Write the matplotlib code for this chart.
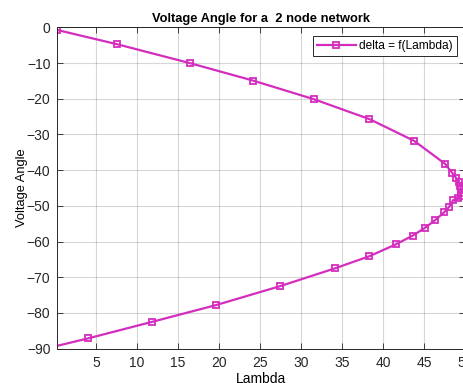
import matplotlib
matplotlib.use("Agg")
import matplotlib.pyplot as plt

lam = [0.28, 7.6, 16.5, 24.1, 31.5, 38.3, 43.75, 47.5, 48.4,
       48.9, 49.2, 49.35, 49.45, 49.5, 49.4, 49.1,
       48.5, 48.0, 47.4, 46.3, 45.1, 43.6, 41.5, 38.3, 34.1, 27.4,
       19.6, 11.8, 4.06, -1.0]
delta = [-0.75, -4.75, -10.06, -14.9, -20.1, -25.7, -31.8, -38.2, -40.8,
         -42.3, -43.3, -44.3, -45.3, -46.3, -47.2, -47.9,
         -48.4, -50.3, -51.8, -54.0, -56.1, -58.3, -60.8, -64.1, -67.5, -72.5,
         -77.8, -82.5, -87.1, -89.9]
xticks = [5, 10, 15, 20, 25, 30, 35, 40, 45, 50]
yticks = [0, -10, -20, -30, -40, -50, -60, -70, -80, -90]

plt.rcParams['font.family'] = ['Liberation Sans', 'DejaVu Sans']
fig = plt.figure(figsize=(4.64, 3.83), dpi=100)
ax = fig.add_axes([0.1235, 0.0896, 0.8797, 0.839])
col = '#D42DBE'
ax.plot(lam, delta, color=col, lw=1.6, marker='s', ms=4.6, mfc='none',
        mec=col, mew=1.3, label='delta = f(Lambda)')
ax.set_xlim(0.28, 50.0)
ax.set_ylim(-90, 0)
ax.set_xticks(xticks)
ax.set_yticks(yticks)
ax.tick_params(direction='in', top=True, right=True, labelsize=10,
               length=4, width=0.6, colors='#262626', pad=5)
ax.grid(True, color='#262626', alpha=0.18, lw=0.8)
for s in ax.spines.values():
    s.set_color('#262626')
    s.set_linewidth(0.7)
ax.set_title('Voltage Angle for a  2 node network', fontsize=9.3,
             fontweight='bold', pad=4)
ax.set_xlabel('Lambda', fontsize=10, labelpad=2)
ax.set_ylabel('Voltage Angle', fontsize=9.3, labelpad=-1)
leg = ax.legend(loc='upper right', fontsize=8.6, fancybox=False,
                edgecolor='#262626', framealpha=1, handlelength=3.3,
                handletextpad=0.25, borderpad=0.35, borderaxespad=0,
                bbox_to_anchor=(0.979, 0.973))
leg.get_frame().set_linewidth(0.7)
fig.savefig('out.png', dpi=100)
